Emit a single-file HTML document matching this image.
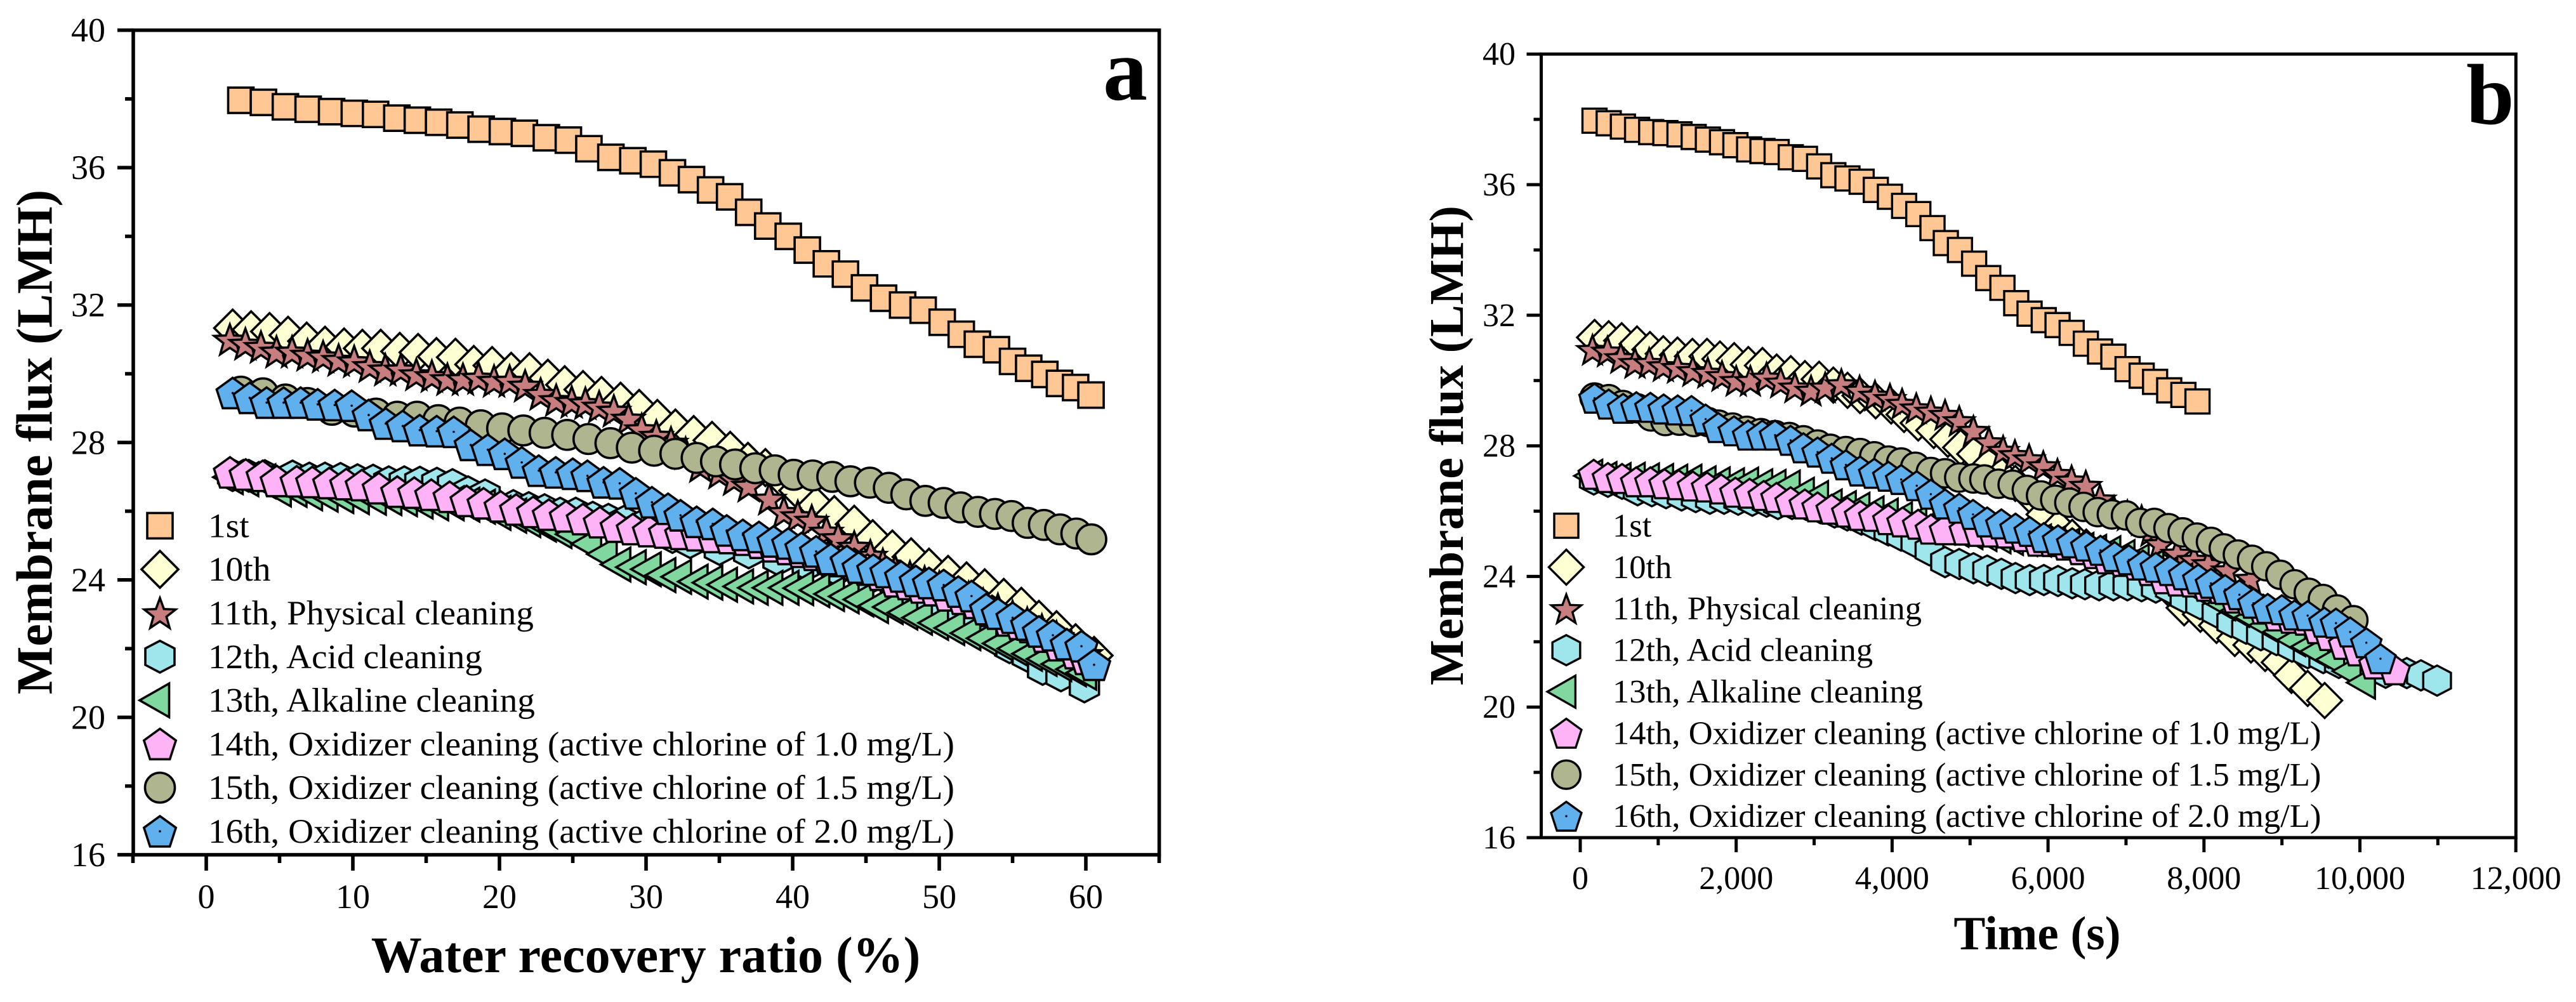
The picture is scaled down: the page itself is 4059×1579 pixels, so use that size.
<!DOCTYPE html>
<html lang="en">
<head>
<meta charset="utf-8">
<title>Membrane flux charts</title>
<style>
html,body{margin:0;padding:0;background:#fff;}
svg{display:block;}
text{font-family:"Liberation Serif",serif;fill:#000;}
</style>
</head>
<body>
<svg id="chart" xmlns="http://www.w3.org/2000/svg" width="4059" height="1579" viewBox="0 0 4059 1579">
<rect x="0" y="0" width="4059" height="1579" fill="#fff"/>
<g id="panelA"></g>
<g id="panelB"></g>
</svg>
<script>
/* ---- shared labels ---- */
var seriesNames = ["1st","10th","11th, Physical cleaning","12th, Acid cleaning","13th, Alkaline cleaning","14th, Oxidizer cleaning (active chlorine of 1.0 mg/L)","15th, Oxidizer cleaning (active chlorine of 1.5 mg/L)","16th, Oxidizer cleaning (active chlorine of 2.0 mg/L)"];
var yTicksMajor = [16,20,24,28,32,36,40];
var yTicksMinor = [18,22,26,30,34,38];
var aXTicksMajor = [0,10,20,30,40,50,60];
var aXTicksMinor = [-5,5,15,25,35,45,55,65];
var bXTicksMajor = [0,2000,4000,6000,8000,10000,12000];
var bXTicksMinor = [1000,3000,5000,7000,9000,11000];

/* ---- panel a: water recovery ratio (%) vs flux (LMH) ---- */
var a1stX = [2.36,3.9,5.4,6.95,8.55,10.1,11.55,13.0,14.4,15.85,17.3,18.75,20.2,21.7,23.2,24.7,26.1,27.6,29.1,30.5,31.8,33.1,34.4,35.7,37,38.3,39.7,41,42.3,43.6,44.9,46.2,47.5,48.9,50.2,51.5,52.6,53.9,55,56.1,57.2,58.2,59.3,60.35];
var a1stY = [37.96,37.9,37.77,37.7,37.63,37.58,37.55,37.44,37.38,37.32,37.24,37.12,37.05,37.0,36.87,36.8,36.55,36.3,36.2,36.1,35.85,35.65,35.35,35.15,34.7,34.3,34.0,33.6,33.2,32.9,32.5,32.2,32.0,31.85,31.5,31.15,30.86,30.7,30.36,30.16,29.98,29.72,29.6,29.38];
var a10thX = [1.8,3.06,4.32,5.58,6.85,8.1,9.4,10.65,11.9,13.2,14.45,15.7,17,18.25,19.5,20.8,22.05,23.3,24.45,25.7,26.96,28.26,29.53,30.77,32,33.25,34.5,35.74,36.95,38.14,39.25,40.35,41.6,42.84,44.2,45.46,46.8,48.08,49.3,50.6,51.86,53.1,54.4,55.6,56.8,58,59.3,60.56];
var a10thY = [31.33,31.28,31.23,31.12,30.95,30.83,30.78,30.74,30.74,30.65,30.62,30.5,30.48,30.27,30.24,30.07,30.06,29.87,29.68,29.54,29.37,29.2,28.99,28.7,28.42,28.23,28.06,27.77,27.45,27.27,26.95,26.6,26.16,25.9,25.62,25.2,24.9,24.67,24.37,24.16,23.97,23.77,23.49,23.23,22.85,22.55,22.17,21.8];
var a11thX = [1.61,2.67,3.73,4.79,5.85,6.91,7.97,9.03,10.09,11.15,12.21,13.27,14.33,15.39,16.45,17.51,18.57,19.63,20.69,21.75,22.81,23.87,24.93,25.86,26.8,27.8,28.8,29.7,30.7,31.7,32.7,33.7,35,36,37,38.4,39.4,40.35,41.3,42.3,43.1,44.2,45.3,46.15,47,48,49,50,51,52,53,54,55,56,57,58,59,60];
var a11thY = [31.0,30.88,30.79,30.65,30.65,30.56,30.51,30.41,30.37,30.23,30.13,30.13,29.99,29.94,29.85,29.85,29.89,29.8,29.8,29.66,29.42,29.24,29.19,29.15,29.05,28.93,28.7,28.39,28.2,28,27.7,27.32,27.13,26.94,26.75,26.37,25.98,25.86,25.73,25.41,25.22,24.97,24.71,24.46,24.27,24.1,23.95,23.8,23.65,23.5,23.3,23.15,22.95,22.75,22.55,22.35,22.1,21.85];
var a12thX = [1.8,2.9,4,5.88,7.03,8.1,9.16,10.32,11.38,12.45,13.51,14.57,15.73,16.8,17.86,19.02,20.95,22,23.08,24.14,25.2,26.36,27.43,28.49,29.6,30.7,31.8,33,35,37,39,41,43,45,47,49,50.3,51.4,52.5,53.6,54.8,56,57.05,58.3,59.9];
var a12thY = [27.05,27.03,27.02,27.01,26.95,26.95,26.94,26.9,26.89,26.84,26.84,26.83,26.8,26.76,26.55,26.46,26.15,26.09,26.03,25.93,25.93,25.81,25.75,25.69,25.55,25.4,25.25,25.1,24.9,24.8,24.6,24.45,24.3,24.0,23.6,23.25,23.06,22.81,22.68,22.36,22.04,21.79,21.41,21.22,20.9];
var a13thX = [1.49,2.55,3.71,4.77,5.84,6.9,7.96,9.03,10.09,11.25,12.31,13.37,14.44,15.5,16.56,17.63,18.69,19.75,20.82,21.78,22.85,23.91,24.87,25.94,27,27.93,28.98,30,31,32.07,33.2,34.2,35.2,36.3,37.3,38.3,39.4,40.4,41.5,42.5,43.5,44.5,45.5,46.5,47.5,48.5,49.6,50.7,51.8,52.9,54,55,56,57,58,59,59.7];
var a13thY = [26.99,26.93,26.87,26.63,26.62,26.52,26.48,26.44,26.41,26.39,26.38,26.35,26.28,26.23,26.23,26.19,26.13,25.95,25.87,25.74,25.61,25.42,25.33,25.05,24.75,24.45,24.37,24.31,24.14,24.09,23.95,23.92,23.86,23.81,23.77,23.77,23.77,23.76,23.7,23.59,23.52,23.43,23.24,23.21,23.05,22.9,22.75,22.6,22.45,22.3,22.15,22,21.85,21.7,21.55,21.4,21.3];
var a14thX = [1.62,2.69,3.85,4.81,6.17,7.23,8.39,9.55,10.61,11.77,13.03,14.19,15.35,16.6,17.76,18.92,20.08,21.14,22.3,23.37,24.53,25.69,26.85,28,29.1,30.2,31.3,32.4,33.5,34.6,35.7,36.8,37.8,38.7,39.7,40.6,41.5,42.4,43.3,44.2,45.1,46,47,47.9,48.8,49.7,50.6,51.6,52.5,53.6,54.7,55.5,56.2,57.2,58.2,59.3,60];
var a14thY = [27.13,27.07,27.03,26.88,26.87,26.85,26.82,26.79,26.76,26.67,26.57,26.54,26.48,26.42,26.3,26.23,26.14,26.05,25.98,25.9,25.85,25.77,25.68,25.55,25.48,25.42,25.38,25.34,25.3,25.25,25.22,25.17,25.08,24.98,24.9,24.82,24.73,24.65,24.55,24.47,24.3,24.15,23.96,23.88,23.78,23.7,23.55,23.45,23.33,23.1,22.82,22.72,22.63,22.35,22.1,21.87,21.7];
var a15thX = [2.36,3.87,5.4,6.9,8.57,10.1,11.58,13.03,14.38,15.83,17.28,18.73,20.18,21.63,23.08,24.62,26.07,27.57,29.03,30.55,32,33.45,34.77,36.07,37.45,38.78,40.07,41.37,42.7,43.94,45.27,46.56,47.75,49.05,50.3,51.45,52.64,53.8,54.93,56.03,57.14,58.24,59.35,60.37];
var a15thY = [29.48,29.43,29.25,29.15,28.95,28.9,28.84,28.75,28.75,28.65,28.58,28.5,28.41,28.35,28.28,28.22,28.1,27.98,27.85,27.76,27.67,27.55,27.45,27.36,27.25,27.19,27.06,27.04,27.0,26.87,26.83,26.68,26.49,26.3,26.24,26.11,25.98,25.92,25.86,25.66,25.6,25.47,25.35,25.18];
var a16thX = [1.8,2.96,4.12,5.28,6.44,7.6,8.76,9.92,11.08,12.24,13.4,14.56,15.72,16.88,18.04,19.2,20.36,21.52,22.68,23.84,25,26,27.1,28.2,29.3,30.4,31.5,32.35,33.45,34.55,35.5,36.6,37.7,38.7,39.7,40.6,41.6,42.6,43.7,44.5,45.5,46.4,47.4,48.4,49.3,50.3,51.3,52.2,53.2,54,55,56,56.8,57.75,58.7,59.7,60.56];
var a16thY = [29.44,29.3,29.16,29.16,29.16,29.11,29.09,29.07,28.8,28.55,28.48,28.36,28.33,28.31,27.93,27.79,27.67,27.42,27.18,27.13,27.09,27.03,26.84,26.81,26.52,26.26,26.07,25.88,25.69,25.63,25.44,25.31,25.25,25.12,25.06,24.93,24.83,24.61,24.55,24.36,24.3,24.23,24.1,23.97,23.91,23.85,23.66,23.53,23.15,23.02,22.9,22.7,22.5,22.39,22.13,22.07,21.53];

/* ---- panel b: time (s) vs flux (LMH) ---- */
var b1stX = [183,365,547,729,910,1092,1273,1455,1637,1818,1990,2166,2337,2519,2700,2882,3064,3246,3427,3609,3791,3972,4154,4336,4518,4689,4870,5052,5233,5415,5592,5763,5945,6122,6303,6485,6667,6838,7020,7201,7373,7554,7736,7917];
var b1stY = [37.96,37.88,37.78,37.68,37.61,37.58,37.54,37.46,37.38,37.3,37.21,37.08,37.03,37.0,36.84,36.79,36.56,36.29,36.19,36.09,35.84,35.63,35.35,35.1,34.67,34.21,34.0,33.58,33.14,32.84,32.37,32.05,31.85,31.7,31.46,31.13,30.89,30.73,30.35,30.15,29.96,29.7,29.56,29.36];
var b10thX = [184,365,531,728,894,1065,1247,1439,1626,1792,1974,2156,2337,2519,2701,2882,3064,3246,3428,3589,3789,3988,4153,4335,4534,4715,4879,5060,5240,5400,5580,5760,5950,6130,6310,6490,6670,6850,7030,7210,7390,7560,7746,7954,8161,8395,8603,8785,8966,9122,9330,9548];
var b10thY = [31.32,31.28,31.22,31.12,30.95,30.82,30.78,30.74,30.74,30.66,30.61,30.49,30.46,30.26,30.21,30.06,30.04,29.86,29.7,29.54,29.38,29.22,28.96,28.7,28.47,28.2,27.95,27.75,27.4,27.1,26.85,26.5,25.9,25.5,25.2,24.9,24.7,24.5,24.25,24.05,23.85,23.6,23.04,22.84,22.5,22.1,21.9,21.64,21.37,20.97,20.57,20.2];
var b11thX = [157,349,520,702,884,1065,1247,1444,1636,1818,2000,2182,2389,2571,2753,2960,3142,3349,3583,3780,3972,4128,4310,4497,4679,4861,5043,5242,5424,5575,5757,5939,6121,6302,6484,6666,6847,7018,7200,7320,7436,7654,7872,8054,8300,8599];
var b11thY = [30.95,30.9,30.7,30.55,30.55,30.45,30.4,30.3,30.25,30.15,30,30,30.1,29.95,29.8,29.7,29.8,29.9,29.7,29.55,29.45,29.3,29.16,29.06,28.96,28.77,28.47,28.12,27.86,27.73,27.6,27.39,27.15,26.95,26.79,26.37,26.01,25.88,25.73,25.4,25,24.71,24.52,24.39,24.2,23.94];
var b12thX = [173,355,536,736,918,1100,1300,1481,1663,1845,2026,2208,2390,2535,2717,2899,3080,3262,3425,3607,3789,3952,4116,4298,4479,4679,4861,5043,5219,5401,5583,5764,5946,6128,6310,6473,6655,6837,7018,7200,7382,7563,7750,7950,8160,8350,8540,8730,8930,9130,9330,9530,9730,9930,10130,10330,10601,10783,10990];
var b12thY = [26.97,26.9,26.84,26.64,26.61,26.55,26.48,26.43,26.38,26.38,26.35,26.32,26.29,26.22,26.22,26.19,26.09,25.96,25.87,25.74,25.57,25.41,25.25,25.05,24.8,24.44,24.38,24.25,24.18,24.08,23.95,23.89,23.89,23.86,23.79,23.76,23.73,23.73,23.73,23.7,23.66,23.63,23.35,23.15,22.9,22.6,22.4,22.2,22.05,21.85,21.65,21.5,21.35,21.2,21.1,21.05,21.04,20.97,20.81];
var b13thX = [104,286,467,649,831,1012,1194,1376,1557,1739,1921,2103,2284,2455,2637,2818,3000,3175,3356,3531,3712,3894,4076,4260,4440,4620,4800,4980,5160,5340,5500,5680,5859,6041,6222,6404,6567,6749,6931,7113,7300,7480,7670,7850,8040,8220,8400,8580,8760,8940,9120,9300,9415,9620,9830,10015];
var b13thY = [27.08,27.01,26.98,26.99,26.97,26.95,26.93,26.93,26.88,26.85,26.82,26.84,26.79,26.77,26.75,26.53,26.43,26.17,26.12,26.07,25.96,25.89,25.78,25.65,25.55,25.47,25.4,25.33,25.27,25.2,25.15,25.12,25.1,25.04,24.97,24.84,24.78,24.74,24.62,24.49,24.3,24.1,23.9,23.65,23.4,23.15,22.95,22.75,22.5,22.3,22.05,21.85,21.7,21.45,21.1,20.75];
var b14thX = [173,355,536,718,900,1081,1263,1445,1627,1808,1990,2172,2353,2517,2698,2880,3044,3225,3425,3589,3771,3952,4134,4334,4497,4679,4933,5115,5297,5479,5692,5873,6055,6237,6419,6600,6764,6964,7145,7309,7491,7672,7854,8036,8217,8399,8581,8760,8940,9120,9303,9460,9615,9797,9980,10186,10445];
var b14thY = [27.13,27.03,27,26.9,26.9,26.84,26.81,26.77,26.74,26.68,26.58,26.55,26.48,26.42,26.29,26.22,26.13,26.06,25.97,25.87,25.84,25.74,25.67,25.6,25.45,25.43,25.42,25.38,25.36,25.33,25.22,25.08,25.07,24.96,24.82,24.7,24.54,24.46,24.35,24.18,23.93,23.86,23.83,23.7,23.63,23.34,23.27,23,22.79,22.72,22.66,22.4,22.19,21.92,21.72,21.32,21.14];
var b15thX = [183,365,547,729,910,1092,1273,1455,1637,1772,1953,2135,2317,2499,2680,2862,3044,3207,3407,3589,3771,3952,4116,4298,4497,4679,4861,5043,5183,5365,5546,5728,5910,6092,6273,6455,6637,6818,7000,7182,7363,7545,7727,7909,8090,8254,8435,8617,8799,8980,9162,9344,9526,9707,9916];
var b15thY = [29.48,29.43,29.25,29.15,28.9,28.76,28.77,28.73,28.73,28.65,28.56,28.46,28.39,28.33,28.27,28.17,28.04,27.91,27.84,27.78,27.68,27.55,27.49,27.36,27.2,27.16,27.03,27.0,26.97,26.84,26.81,26.65,26.48,26.35,26.26,26.13,25.97,25.9,25.87,25.64,25.64,25.48,25.35,25.19,25.06,24.86,24.67,24.51,24.31,24.05,23.76,23.5,23.31,22.99,22.66];
var b16thX = [183,365,550,720,900,1070,1250,1427,1608,1772,1972,2153,2335,2499,2698,2862,3044,3225,3407,3589,3771,3952,4116,4316,4497,4679,4861,5038,5219,5401,5583,5764,5946,6128,6310,6491,6673,6855,7036,7218,7382,7563,7745,7927,8090,8272,8454,8635,8817,8999,9162,9330,9544,9693,9875,10082,10264];
var b16thY = [29.46,29.28,29.15,29.2,29.18,29.13,29.1,29.08,28.82,28.56,28.46,28.33,28.33,28.33,28.17,27.94,27.81,27.62,27.42,27.23,27.16,27.07,26.97,26.78,26.52,26.22,26.09,25.9,25.67,25.61,25.48,25.38,25.19,25.12,25.03,24.93,24.8,24.61,24.51,24.35,24.28,24.18,24.05,23.92,23.79,23.6,23.44,23.18,23.02,22.98,22.82,22.8,22.6,22.57,22.3,21.97,21.48];

var NS = "http://www.w3.org/2000/svg";

function starPath(R, r, dy) {
  var d = "";
  for (var i = 0; i < 10; i++) {
    var rad = i % 2 ? r : R;
    var ang = -Math.PI / 2 + i * Math.PI / 5;
    d += (i ? "L" : "M") + (rad * Math.cos(ang)).toFixed(2) + "," + (rad * Math.sin(ang) + dy).toFixed(2);
  }
  return d + "Z";
}
function pentPath(R, dy) {
  var d = "";
  for (var i = 0; i < 5; i++) {
    var ang = -Math.PI / 2 + i * 2 * Math.PI / 5;
    d += (i ? "L" : "M") + (R * Math.cos(ang)).toFixed(2) + "," + (R * Math.sin(ang) + dy).toFixed(2);
  }
  return d + "Z";
}
var shapePaths = {
  square: "M-20,-20H20V20H-20Z",
  diamond: "M0,-29L29,0L0,29L-29,0Z",
  star: starPath(26, 10.8, 2.5),
  hex: "M0,-25L23,-13V13L0,25L-23,13V-13Z",
  tri: "M-23.5,0L23,-26.5V26.5Z",
  pent: pentPath(26.5, 2.55),
  circle: "M-23.5,0A23.5,23.5 0 1 1 23.5,0A23.5,23.5 0 1 1 -23.5,0Z"
};
var seriesShapes = ["square","diamond","star","hex","tri","pent","circle","pent"];
var seriesFills = ["#FFC794","#FFFFD4","#C87E7E","#9FE6EC","#80D89F","#FFB3F7","#AFB58E","#60B0EE"];
var seriesKeys = ["1st","10th","11th","12th","13th","14th","15th","16th"];

function marker(parent, idx, px, py, s, name) {
  var g = document.createElementNS(NS, "g");
  g.setAttribute("transform", "translate(" + px.toFixed(2) + "," + py.toFixed(2) + ") scale(" + s + ")");
  
  
  var p = document.createElementNS(NS, "path");
  p.setAttribute("d", shapePaths[seriesShapes[idx]]);
  p.setAttribute("fill", seriesFills[idx]);
  p.setAttribute("stroke", "#000");
  p.setAttribute("stroke-width", "3.6");
  p.setAttribute("stroke-linejoin", "miter");
  p.setAttribute("stroke-miterlimit", "6");
  g.appendChild(p);
  if (idx === 7) {
    var dot = document.createElementNS(NS, "circle");
    dot.setAttribute("r", "1.8");
    dot.setAttribute("fill", "#000");
    g.appendChild(dot);
  }
  parent.appendChild(g);
}

function addText(parent, str, x, y, size, opts, name) {
  var t = document.createElementNS(NS, "text");
  var tr = "translate(" + x + "," + y + ")";
  if (opts.rotate) tr += " rotate(" + opts.rotate + ")";
  if (opts.sx) tr += " scale(" + opts.sx + ",1)";
  t.setAttribute("transform", tr);
  t.setAttribute("font-size", size);
  if (opts.anchor) t.setAttribute("text-anchor", opts.anchor);
  if (opts.bold) t.setAttribute("font-weight", "bold");
  t.textContent = str;
  
  
  parent.appendChild(t);
}

function addLine(parent, x1, y1, x2, y2, w, name) {
  var l = document.createElementNS(NS, "line");
  l.setAttribute("x1", x1);
  l.setAttribute("y1", y1);
  l.setAttribute("x2", x2);
  l.setAttribute("y2", y2);
  l.setAttribute("stroke", "#000");
  l.setAttribute("stroke-width", w);
  
  
  parent.appendChild(l);
}

function fmtThousands(v) {
  var s = String(Math.abs(v));
  if (s.length > 3) s = s.slice(0, s.length - 3) + "," + s.slice(s.length - 3);
  return s;
}

function drawPanel(cfg) {
  var root = document.getElementById(cfg.id);
  var xs = cfg.xFn, ys = cfg.yFn;
  /* series */
  for (var i = 0; i < 8; i++) {
    var sg = document.createElementNS(NS, "g");
    
    
    root.appendChild(sg);
    var X = cfg.seriesX[i], Y = cfg.seriesY[i];
    for (var j = 0; j < X.length; j++) {
      marker(sg, i, xs(X[j]), ys(Y[j]), cfg.mScale, 'point-' + seriesKeys[i]);
    }
  }
  /* frame */
  var fr = document.createElementNS(NS, "rect");
  fr.setAttribute("x", cfg.L);
  fr.setAttribute("y", cfg.T);
  fr.setAttribute("width", cfg.R - cfg.L);
  fr.setAttribute("height", cfg.B - cfg.T);
  fr.setAttribute("fill", "none");
  fr.setAttribute("stroke", "#000");
  fr.setAttribute("stroke-width", cfg.lw);
  
  
  root.appendChild(fr);
  /* y ticks */
  yTicksMajor.forEach(function (v) {
    addLine(root, cfg.L - cfg.majorLen, ys(v), cfg.L, ys(v), cfg.lw, 'y-tick-major');
    addText(root, String(v), cfg.yLabelX, ys(v) + cfg.yLabelDy, cfg.tickSize, {anchor: "end", sx: cfg.tickSx}, 'y-tick-label');
  });
  yTicksMinor.forEach(function (v) {
    addLine(root, cfg.L - cfg.minorLen, ys(v), cfg.L, ys(v), cfg.lw, 'y-tick-minor');
  });
  /* x ticks */
  cfg.xMajor.forEach(function (v) {
    addLine(root, xs(v), cfg.B, xs(v), cfg.B + cfg.majorLen, cfg.lw, 'x-tick-major');
    addText(root, fmtThousands(v), xs(v), cfg.xLabelY, cfg.tickSize, {anchor: "middle", sx: cfg.tickSx}, 'x-tick-label');
  });
  cfg.xMinor.forEach(function (v) {
    addLine(root, xs(v), cfg.B, xs(v), cfg.B + cfg.minorLen, cfg.lw, 'x-tick-minor');
  });
  /* titles */
  addText(root, "Membrane flux (LMH)", cfg.yTitleX, cfg.yTitleY, cfg.yTitleSize, {anchor: "middle", bold: true, rotate: -90}, 'y-axis-title');
  addText(root, cfg.xTitle, cfg.xTitleX, cfg.xTitleY, cfg.xTitleSize, {anchor: "middle", bold: true}, 'x-axis-title');
  addText(root, cfg.letter, cfg.letterX, cfg.letterY, cfg.letterSize, {bold: true}, 'panel-letter');
  /* legend */
  for (var k = 0; k < 8; k++) {
    var my = cfg.legY0 + k * cfg.legDy;
    var mx = cfg.legMx + (seriesShapes[k] === "tri" ? cfg.triOffset : 0);
    marker(root, k, mx, my, cfg.mScale, 'legend-marker-' + seriesKeys[k]);
    addText(root, seriesNames[k], cfg.legTx, my + cfg.legTextDy, cfg.legSize, {sx: cfg.legSx}, 'legend-label-' + seriesKeys[k]);
  }
}

function xA(v) { return 325 + 23.1 * v; }
function yA(v) { return 47.6 + (40 - v) * 54.14; }
function xB(v) { return 2490 + 0.12285 * v; }
function yB(v) { return 85.2 + (40 - v) * 51.45; }

drawPanel({
  id: "panelA", xFn: xA, yFn: yA, mScale: 1,
  seriesX: [a1stX,a10thX,a11thX,a12thX,a13thX,a14thX,a15thX,a16thX],
  seriesY: [a1stY,a10thY,a11thY,a12thY,a13thY,a14thY,a15thY,a16thY],
  L: 210, R: 1826.6, T: 47.6, B: 1347, lw: 5.6, majorLen: 25, minorLen: 13,
  xMajor: aXTicksMajor, xMinor: aXTicksMinor,
  yLabelX: 166, yLabelDy: 18, tickSize: 54, tickSx: 1, xLabelY: 1431,
  yTitleX: 81.5, yTitleY: 696.5, yTitleSize: 80,
  xTitle: "Water recovery ratio (%)", xTitleX: 1017.5, xTitleY: 1532, xTitleSize: 80,
  letter: "a", letterX: 1738, letterY: 157, letterSize: 140,
  legMx: 252, legY0: 828.4, legDy: 68.8, triOffset: -8.5, legTx: 328, legTextDy: 18, legSize: 54.5, legSx: 1.016
});

drawPanel({
  id: "panelB", xFn: xB, yFn: yB, mScale: 0.95,
  seriesX: [b1stX,b10thX,b11thX,b12thX,b13thX,b14thX,b15thX,b16thX],
  seriesY: [b1stY,b10thY,b11thY,b12thY,b13thY,b14thY,b15thY,b16thY],
  L: 2428.5, R: 3964.3, T: 85.2, B: 1320, lw: 5, majorLen: 23, minorLen: 12,
  xMajor: bXTicksMajor, xMinor: bXTicksMinor,
  yLabelX: 2388, yLabelDy: 17, tickSize: 52, tickSx: 1, xLabelY: 1401,
  yTitleX: 2305, yTitleY: 702, yTitleSize: 76,
  xTitle: "Time (s)", xTitleX: 3210, xTitleY: 1496, xTitleSize: 75,
  letter: "b", letterX: 3886, letterY: 195, letterSize: 136,
  legMx: 2468, legY0: 828.4, legDy: 65.4, triOffset: -7.5, legTx: 2541, legTextDy: 17, legSize: 52, legSx: 1.011
});
</script>
</body>
</html>
